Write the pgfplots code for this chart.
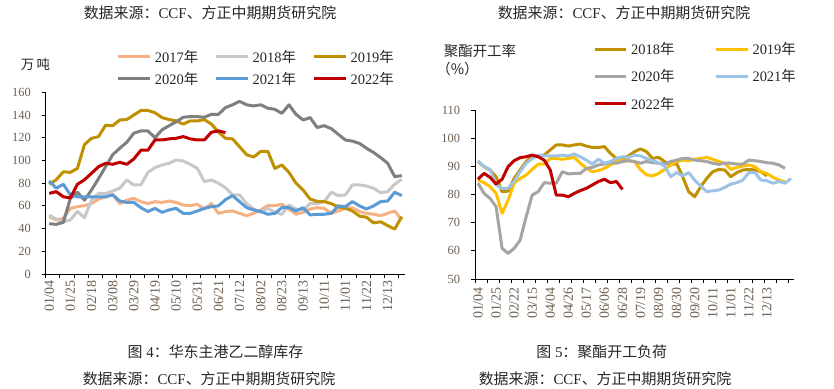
\documentclass[border=0pt]{standalone}
\usepackage{fontspec}
\setmainfont{Liberation Serif}
\newfontfamily\cjk{Noto Sans CJK SC}
\usepackage{pgfplots}
\pgfplotsset{compat=1.18}
\definecolor{cA}{HTML}{F4B183}
\definecolor{cB}{HTML}{C8C8C8}
\definecolor{cC}{HTML}{BF9000}
\definecolor{cD}{HTML}{7F7F7F}
\definecolor{cE}{HTML}{5B9BD5}
\definecolor{cF}{HTML}{C00000}
\definecolor{cY}{HTML}{FFC000}
\definecolor{cG}{HTML}{A5A5A5}
\definecolor{cL}{HTML}{9DC3E6}
\definecolor{tickc}{RGB}{110,95,80}
\definecolor{txt}{RGB}{38,38,38}
\pgfplotsset{
  base/.style={
    scale only axis,
    axis lines*=left,
    axis line style={black, line width=0.75bp},
    tick align=outside,
    major tick length=4bp,
    minor tick length=4bp,
    tick style={black, line width=0.75bp},
    major x tick style={draw=none},
    /pgf/number format/assume math mode=true,
    yticklabel style={font=\fontsize{12.5}{14}\selectfont, text=tickc, anchor=east, inner sep=0pt, xshift=-10.7bp},
    xticklabel style={rotate=90, anchor=east, inner sep=0pt, text=tickc, font=\fontsize{14}{16}\selectfont},
    legend cell align=left,
    legend image code/.code={\draw[##1, line width=3bp] (0bp,0bp) -- (31.6bp,0bp);},
    every axis plot/.append style={line width=3bp, line join=round, no marks},
  }
}
\begin{document}
\begin{tikzpicture}[font=\fontsize{15}{18}\selectfont]
\path[use as bounding box] (0,0) rectangle (834bp,389bp);
% ---------- left chart ----------
\begin{axis}[base,
  at={(45.7bp,115bp)}, anchor=south west,
  width=359.6bp, height=181.7bp,
  xmin=-0.5, xmax=50.5, ymin=0, ymax=160,
  ytick={0,20,...,160},
  xtick={0,3,...,48},
  xticklabels={01/04,01/25,02/18,03/08,03/29,04/19,05/10,05/31,06/21,07/12,08/02,08/23,09/13,10/11,11/01,11/22,12/13},
  minor xtick={-0.5,1.5,...,50.5},
  xticklabel shift=2bp,
  legend columns=3,
  legend style={draw=none, fill=none, at={(0.1974,1.2331)}, anchor=north west, inner sep=0pt,
    font=\fontsize{14.5}{16}\selectfont, text=txt, row sep=8bp,
    nodes={inner sep=0pt},
    /tikz/every odd column/.append style={column sep=3.4bp},
    /tikz/every even column/.append style={column sep=16.5bp}},
]
\addplot[cA] coordinates {(0,50.5)(1,47.6)(2,49)(3,57.8)(4,59.3)(5,60.2)(6,62)(7,66)(8,68)(9,70)(10,62)(11,65)(12,66.6)(13,63.7)(14,62)(15,63.7)(16,63)(17,64.3)(18,63)(19,60.8)(20,60.2)(21,61.4)(22,57.2)(23,62)(24,53.4)(25,55)(26,55.5)(27,53.4)(28,51.4)(29,53.4)(30,56.4)(31,60.2)(32,60.2)(33,61.4)(34,57.2)(35,52.6)(36,54.3)(37,57.2)(38,58.4)(39,57.8)(40,53.4)(41,55.5)(42,57.8)(43,58.4)(44,55)(45,53.4)(46,52.6)(47,51.4)(48,53.4)(49,55.5)(50,47.6)};
\addlegendentry{2017{\cjk 年}}
\addplot[cB] coordinates {(0,52)(1,48.4)(2,46)(3,47.6)(4,55)(5,49.6)(6,65)(7,71)(8,71)(9,73)(10,75.5)(11,82.8)(12,78.4)(13,78.4)(14,89.5)(15,93.7)(16,96)(17,97.5)(18,100.4)(19,99.5)(20,96.6)(21,93)(22,81.3)(23,82.8)(24,79.9)(25,76)(26,69.6)(27,69.6)(28,62)(29,57.2)(30,54.3)(31,57.8)(32,54.3)(33,52.6)(34,60.8)(35,57.2)(36,56.4)(37,62)(38,62)(39,63.7)(40,72)(41,69)(42,69.6)(43,78.4)(44,78.4)(45,77.5)(46,75.5)(47,71.6)(48,72.5)(49,79)(50,83.4)};
\addlegendentry{2018{\cjk 年}}
\addplot[cC] coordinates {(0,79)(1,83)(2,90)(3,89.5)(4,93)(5,114)(6,119.5)(7,121)(8,131)(9,130.6)(10,135.6)(11,136)(12,140)(13,144)(14,144)(15,142)(16,137.7)(17,136)(18,134.8)(19,132)(20,134.8)(21,134.8)(22,136)(23,132)(24,125)(25,119.5)(26,119)(27,112)(28,105)(29,103)(30,108)(31,108)(32,93)(33,96)(34,89.5)(35,80)(36,74)(37,66)(38,64)(39,63.7)(40,62)(41,59)(42,58)(43,55.5)(44,51)(45,50)(46,45)(47,46)(48,42.6)(49,39.6)(50,50.5)};
\addlegendentry{2019{\cjk 年}}
\addplot[cD] coordinates {(0,44.3)(1,43.7)(2,45.5)(3,66.6)(4,72)(5,65)(6,74)(7,84)(8,94.5)(9,105)(10,110.7)(11,116)(12,124)(13,126)(14,126)(15,120)(16,127)(17,130.6)(18,134)(19,138)(20,138.6)(21,138.6)(22,138)(23,140.6)(24,140.6)(25,146.5)(26,149)(27,152)(28,149)(29,148)(30,149)(31,146)(32,145)(33,141.5)(34,149)(35,140.6)(36,135.6)(37,137.7)(38,129)(39,130.6)(40,128)(41,123)(42,118)(43,117)(44,115)(45,110.7)(46,107)(47,102.5)(48,97.5)(49,85.7)(50,86.6)};
\addlegendentry{2020{\cjk 年}}
\addplot[cE] coordinates {(0,82)(1,75.5)(2,79)(3,69.6)(4,68)(5,68)(6,68)(7,68)(8,68)(9,69.6)(10,64.3)(11,63)(12,63)(13,58.4)(14,55)(15,57.8)(16,54.3)(17,56.4)(18,57.8)(19,53.4)(20,53.4)(21,55.5)(22,57.8)(23,59.3)(24,60)(25,65.5)(26,69)(27,63.7)(28,58.4)(29,56.4)(30,55)(31,52.6)(32,53.4)(33,58.4)(34,58.4)(35,55.5)(36,58.4)(37,52)(38,52.6)(39,52.6)(40,53.4)(41,60)(42,59.3)(43,63.7)(44,60)(45,57.2)(46,60)(47,63.7)(48,64.3)(49,72)(50,69)};
\addlegendentry{2021{\cjk 年}}
\addplot[cF] coordinates {(0,71)(1,72.5)(2,68)(3,67)(4,79)(5,83)(6,88.7)(7,94.5)(8,97.5)(9,96.6)(10,98.4)(11,96.6)(12,101.3)(13,109)(14,109)(15,118)(16,118)(17,119)(18,119.5)(19,121)(20,119)(21,118)(22,118)(23,124.8)(24,126)(25,124.5)};
\addlegendentry{2022{\cjk 年}}
\end{axis}
% ---------- right chart ----------
\begin{axis}[base,
  at={(475bp,110bp)}, anchor=south west,
  width=319bp, height=169bp,
  xmin=-0.5, xmax=52.5, ymin=50, ymax=110,
  ytick={50,60,...,110},
  xtick={0,3,...,48},
  xticklabels={01/04,01/25,02/22,03/15,04/04,04/26,05/17,06/06,06/28,07/19,08/09,08/30,09/20,10/11,11/01,11/22,12/13},
  minor xtick={-0.5,1.5,...,52.5},
  xticklabel shift=4bp,
  legend columns=2,
  legend style={draw=none, fill=none, at={(0.3699,1.4009)}, anchor=north west, inner sep=0pt,
    font=\fontsize{14.5}{16}\selectfont, text=txt, row sep=13.5bp,
    nodes={inner sep=0pt},
    /tikz/every odd column/.append style={column sep=3.4bp},
    /tikz/every even column/.append style={column sep=40bp}},
]
\addplot[cC] coordinates {(0,91.7)(1,89.9)(2,88.7)(3,86.3)(4,81)(5,81.2)(6,85.7)(7,88.7)(8,91.7)(9,93.4)(10,93.7)(11,94)(12,95.8)(13,97.6)(14,97.6)(15,97.2)(16,97.6)(17,97.9)(18,97.2)(19,96.7)(20,96.7)(21,97)(22,94.6)(23,92.8)(24,92.8)(25,93.7)(26,95.2)(27,96.2)(28,95.2)(29,92.8)(30,93.2)(31,91.7)(32,90.5)(33,91)(34,86.3)(35,81)(36,79.2)(37,82.8)(38,85.7)(39,88.1)(40,88.9)(41,88.7)(42,86.3)(43,87.8)(44,88.7)(45,88.9)(46,88.7)(47,88.1)(48,86.6)};
\addlegendentry{2018{\cjk 年}}
\addplot[cY] coordinates {(0,85.1)(1,84.2)(2,82.8)(3,80.4)(4,73.3)(5,78)(6,84)(7,85.7)(8,86.9)(9,88.9)(10,90.8)(11,90.8)(12,92.8)(13,92.8)(14,92.5)(15,92.8)(16,93.2)(17,91.1)(18,89.3)(19,88.1)(20,88.5)(21,89.3)(22,90.5)(23,91.7)(24,92.2)(25,92)(26,91.7)(27,88.8)(28,87)(29,86.6)(30,87.5)(31,88.9)(32,90.5)(33,91.7)(34,92.2)(35,92)(36,92.5)(37,92.8)(38,93.2)(39,92.5)(40,91.7)(41,91.1)(42,88.9)(43,89.6)(44,90.1)(45,90.5)(46,89.9)(47,88.1)(48,87.5)(49,86.1)(50,85.1)(51,84.5)};
\addlegendentry{2019{\cjk 年}}
\addplot[cG] coordinates {(0,84)(1,80.4)(2,78.6)(3,75.7)(4,60.9)(5,59.1)(6,60.9)(7,63.8)(8,72.1)(9,79.8)(10,81)(11,84.2)(12,84)(13,84)(14,88.1)(15,87.3)(16,87.5)(17,87.5)(18,89.3)(19,89.6)(20,90.5)(21,90.8)(22,91.3)(23,91.1)(24,91.7)(25,92)(26,91.7)(27,91.1)(28,91.7)(29,91.3)(30,91.1)(31,90.8)(32,91.7)(33,92.2)(34,92.8)(35,92.8)(36,92.2)(37,92)(38,91.7)(39,91.1)(40,90.7)(41,91.1)(42,91.1)(43,90.8)(44,90.8)(45,92.2)(46,92)(47,91.7)(48,91.3)(49,91.1)(50,90.5)(51,89.3)};
\addlegendentry{2020{\cjk 年}}
\addplot[cL] coordinates {(0,92)(1,89.9)(2,88.9)(3,83.4)(4,82.2)(5,82.2)(6,84.6)(7,88.1)(8,91.1)(9,92.8)(10,94)(11,93.7)(12,93.7)(13,93.7)(14,94)(15,93.7)(16,94.4)(17,93.4)(18,92.2)(19,90.8)(20,92.5)(21,91.1)(22,91.7)(23,92.8)(24,93.4)(25,93.2)(26,94)(27,93.7)(28,92.8)(29,92)(30,91.3)(31,90.1)(32,86.3)(33,87.8)(34,86.6)(35,87.8)(36,85.1)(37,83)(38,81)(39,81.3)(40,81.6)(41,82.5)(42,83.7)(43,84.2)(44,85.1)(45,87.8)(46,87.8)(47,85.1)(48,84.9)(49,84)(50,84.6)(51,84)(52,85.7)};
\addlegendentry{2021{\cjk 年}}
\addplot[cF] coordinates {(0,85.4)(1,87.5)(2,86.1)(3,83.7)(4,85.4)(5,89.9)(6,92)(7,93.1)(8,93.4)(9,94)(10,93.4)(11,92.2)(12,88.7)(13,79.8)(14,79.8)(15,79.2)(16,80.4)(17,81.4)(18,82.2)(19,83.4)(20,84.6)(21,85.4)(22,84.2)(23,84.6)(24,81.8)};
\addlegendentry{2022{\cjk 年}}
\end{axis}
% ---------- texts ----------
\node[text=txt] at (210bp,376bp) {{\cjk 数据来源：}CCF{\cjk 、方正中期期货研究院}};
\node[text=txt] at (624bp,376bp) {{\cjk 数据来源：}CCF{\cjk 、方正中期期货研究院}};
\node[text=txt, font=\fontsize{13.5}{15}\cjk] at (35.5bp,325bp) {万\,吨};
\node[text=txt, font=\fontsize{14.5}{16}\cjk] at (480bp,338.3bp) {聚酯开工率};
\node[text=txt, font=\fontsize{14.5}{16}\cjk] at (457.5bp,320bp) {（\%）};
\node[text=txt] at (215.5bp,37.3bp) {{\cjk 图} 4{\cjk ：华东主港乙二醇库存}};
\node[text=txt] at (601.7bp,37.3bp) {{\cjk 图} 5{\cjk ：聚酯开工负荷}};
\node[text=txt] at (209bp,10.7bp) {{\cjk 数据来源：}CCF{\cjk 、方正中期期货研究院}};
\node[text=txt] at (605bp,10.7bp) {{\cjk 数据来源：}CCF{\cjk 、方正中期期货研究院}};
\end{tikzpicture}
\end{document}
